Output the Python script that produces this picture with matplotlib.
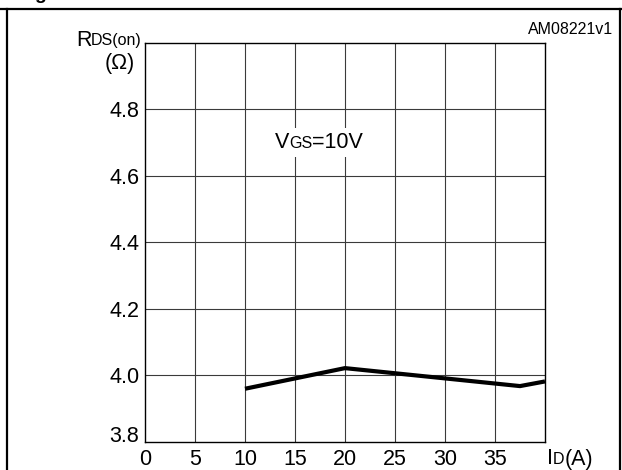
import matplotlib
matplotlib.use("Agg")
import matplotlib.pyplot as plt
from matplotlib.offsetbox import TextArea, HPacker, AnnotationBbox
from matplotlib.lines import Line2D

plt.rcParams['font.family'] = ['Liberation Sans', 'DejaVu Sans']

# data
id_a = [10, 20, 37.5, 40]
rds_on = [3.96, 4.022, 3.968, 3.982]
x_ticks = [0, 5, 10, 15, 20, 25, 30, 35]
y_ticks = [3.8, 4.0, 4.2, 4.4, 4.6, 4.8]

BIG = 15.5
SMALL = 11.5


def mixed_text(ax, pieces, xy, xycoords, box_alignment, white_bg=False):
    # pieces: list of (string, fontsize); glued on a common baseline
    areas = [TextArea(s, textprops=dict(fontsize=fs, color='black')) for s, fs in pieces]
    pack = HPacker(children=areas, align='baseline', pad=0, sep=0)
    ab = AnnotationBbox(pack, xy, xycoords=xycoords, box_alignment=box_alignment,
                        frameon=white_bg, pad=0.3 if white_bg else 0, zorder=5)
    if white_bg:
        ab.patch.set_facecolor('white')
        ab.patch.set_edgecolor('none')
    ax.add_artist(ab)


fig = plt.figure(figsize=(6.22, 4.70), dpi=100)
ax = fig.add_axes([0.2331, 0.0596, 0.6431, 0.8495])

ax.plot(id_a, rds_on, color='black', linewidth=3.0, solid_capstyle='butt', zorder=4)

ax.set_xlim(0, 40)
ax.set_ylim(3.8, 5.0)
ax.set_xticks(x_ticks)
ax.set_xticklabels([str(v) for v in x_ticks])
ax.set_yticks(y_ticks)
ax.set_yticklabels([f"{v:.1f}" for v in y_ticks])
ax.tick_params(length=0, labelsize=BIG)
ax.tick_params(axis='x', pad=5)
ax.tick_params(axis='y', pad=4)
# bottom label sits on the axis line in the reference
ax.get_yticklabels()[0].set_verticalalignment('baseline')

# grid
for xv in x_ticks[1:]:
    ax.axvline(xv, color='#3a3a3a', linewidth=0.8, zorder=1)
for yv in y_ticks[1:]:
    ax.axhline(yv, color='#3a3a3a', linewidth=0.8, zorder=1)
for sp in ax.spines.values():
    sp.set_linewidth(1.0)
    sp.set_color('black')

# annotation inside plot
mixed_text(ax, [('V', BIG), ('GS', SMALL), ('=10V', BIG)], (17.4, 4.70), 'data', (0.5, 0.5), white_bg=True)

# axis labels
mixed_text(ax, [('R', BIG), ('DS(on)', SMALL)], (142, 470 - 40), 'figure pixels', (1.0, 0.5))
fig.text(135 / 622, 1 - 64 / 470, '(\u03a9)', fontsize=BIG, ha='right', va='center')
mixed_text(ax, [('I', BIG), ('D', SMALL), ('(A)', BIG)], (547, 470 - 459), 'figure pixels', (0.0, 0.5))

# document id
fig.text(613 / 622, 1 - 30 / 470, 'AM08221v1', fontsize=11.5, ha='right', va='center')

# frame of the figure box
fig.add_artist(Line2D([0, 1], [1 - 9 / 470] * 2, color='black', linewidth=1.6, transform=fig.transFigure))
fig.add_artist(Line2D([7 / 622] * 2, [0, 1 - 9 / 470], color='black', linewidth=1.6, transform=fig.transFigure))
fig.add_artist(Line2D([620 / 622] * 2, [0, 1 - 9 / 470], color='black', linewidth=1.6, transform=fig.transFigure))

# clipped title glyph at the top edge
fig.text(40 / 622, 1 + 1 / 470, 'g', fontsize=14, fontweight='bold', ha='center', va='baseline')

fig.savefig('out.png', dpi=100)
